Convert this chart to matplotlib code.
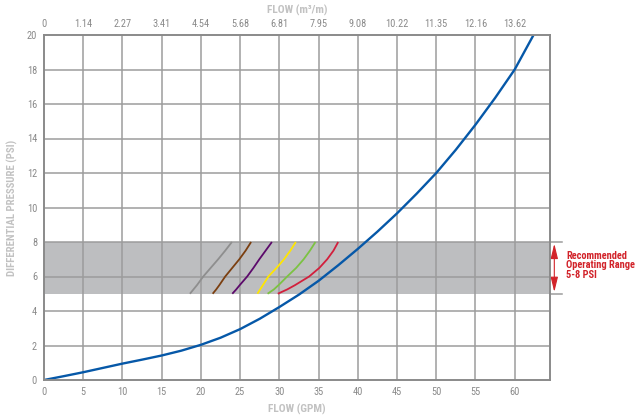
import matplotlib
matplotlib.use("Agg")
import matplotlib.pyplot as plt
from matplotlib import font_manager

# ---------------- data ----------------
gpm_ticks = [0, 5, 10, 15, 20, 25, 30, 35, 40, 45, 50, 55, 60]
m3_labels = ["0", "1.14", "2.27", "3.41", "4.54", "5.68", "6.81", "7.95",
             "9.08", "10.22", "11.35", "12.16", "13.62"]
psi_ticks = [0, 2, 4, 6, 8, 10, 12, 14, 16, 18, 20]

# main blue curve (GPM, PSI)
main_flow = [0, 2.5, 5, 7.5, 10, 12.5, 15, 17.5, 20, 22.5, 25, 27.5, 30, 32.5,
             35, 37.5, 40, 42.5, 45, 47.5, 50, 52.5, 55, 57.5, 60, 62.4]
main_psi = [0, 0.22, 0.45, 0.7, 0.95, 1.18, 1.42, 1.7, 2.04, 2.45, 2.95, 3.55,
            4.23, 4.95, 5.75, 6.65, 7.6, 8.6, 9.66, 10.8, 12.0, 13.35, 14.8,
            16.35, 18.0, 20.0]

# short curves inside the recommended range
short_psi = [5, 5.25, 5.5, 6, 6.5, 7, 7.5, 8]
gray_flow = [18.6, 19.05, 19.5, 20.3, 21.25, 22.2, 23.1, 23.95]
brown_flow = [21.5, 21.95, 22.35, 23.1, 24.0, 24.9, 25.7, 26.4]
purple_flow = [24.0, 24.5, 24.95, 25.9, 26.7, 27.45, 28.25, 29.05]
yellow_flow = [27.2, 27.55, 27.9, 28.6, 29.65, 30.6, 31.4, 32.1]
green_flow = [28.5, 29.3, 29.9, 31.0, 32.15, 33.1, 33.9, 34.6]
red_flow = [29.8, 31.0, 32.0, 33.8, 35.1, 36.1, 36.9, 37.5]

range_low, range_high = 5, 8

# ---------------- style ----------------
avail = {f.name for f in font_manager.fontManager.ttflist}
cands = ["Liberation Sans Narrow", "Roboto Condensed", "Open Sans Condensed"]
fam = next((c for c in cands if c in avail), "DejaVu Sans")
plt.rcParams["font.family"] = [fam, "DejaVu Sans"]
plt.rcParams["font.stretch"] = "condensed"

tick_col = "#8a8a8a"
title_col = "#c2c2c2"
grid_col = "#9c9c9c"
red_txt = "#d2232a"

fig = plt.figure(figsize=(6.39, 4.17), dpi=100)
ax = fig.add_axes([44 / 639, 37 / 417, 506 / 639, 345 / 417])

xmax = 64.5
ax.set_xlim(0, xmax)
ax.set_ylim(0, 20)

# band
ax.axhspan(range_low, range_high, color="#bdbec0", zorder=1, lw=0)

# grid
for x in gpm_ticks[1:]:
    ax.axvline(x, color=grid_col, lw=1.1, zorder=2)
for y in psi_ticks[1:-1]:
    ax.axhline(y, color=grid_col, lw=1.1, zorder=2)

# curves
short_sets = [(gray_flow, "#8e8e8e"), (brown_flow, "#7b3f10"),
              (purple_flow, "#5c0a6b"), (yellow_flow, "#ffe600"),
              (green_flow, "#7cc242"), (red_flow, "#d21f3c")]
for fl, c in short_sets:
    ax.plot(fl, short_psi, color=c, lw=1.3, zorder=3, solid_capstyle="butt")
ax.plot(main_flow, main_psi, color="#0658a8", lw=1.7, zorder=4)

# spines
for s in ax.spines.values():
    s.set_color("#8a8a8a")
    s.set_linewidth(1.4)
    s.set_zorder(5)

ax.set_xticks(gpm_ticks)
ax.set_xticklabels([str(t) for t in gpm_ticks])
ax.set_yticks(psi_ticks)
ax.set_yticklabels([str(t) for t in psi_ticks])
ax.tick_params(length=0, labelsize=7.5, labelcolor=tick_col, pad=5)

# top axis
ax2 = ax.twiny()
ax2.set_xlim(ax.get_xlim())
ax2.set_xticks(gpm_ticks)
ax2.set_xticklabels(m3_labels)
ax2.tick_params(length=0, labelsize=7.5, labelcolor=tick_col, pad=4)
for s in ax2.spines.values():
    s.set_visible(False)

ax.set_xlabel("FLOW (GPM)", fontsize=8.2, color=title_col, fontweight="bold", labelpad=5)
ax2.set_xlabel("FLOW (m³/m)", fontsize=8.2, color=title_col, fontweight="bold", labelpad=4)
ax.set_ylabel("DIFFERENTIAL PRESSURE (PSI)", fontsize=7.8, color=title_col,
              fontweight="bold", labelpad=6)

# range markers outside axes
ext = 12 / 7.84
for y in (range_low, range_high):
    ax.plot([xmax, xmax + ext], [y, y], color=grid_col, lw=1.1, clip_on=False, zorder=2)
ax.annotate("", xy=(xmax + 0.55, range_high - 0.1), xytext=(xmax + 0.55, range_low + 0.1),
            xycoords="data", textcoords="data",
            arrowprops=dict(arrowstyle="<|-|>,head_length=0.9,head_width=0.22",
                            color=red_txt, lw=0.8, shrinkA=0, shrinkB=0),
            annotation_clip=False)
red_size = 7.5 if fam != "DejaVu Sans" else 6.0
for i, line in enumerate(["Recommended", "Operating Range", "5-8 PSI"]):
    fig.text(566 / 639, 1 - (256.3 + i * 9.2) / 417, line, color=red_txt,
             fontsize=red_size, fontweight="bold", va="center", ha="left")

fig.savefig("out.png", dpi=100)
